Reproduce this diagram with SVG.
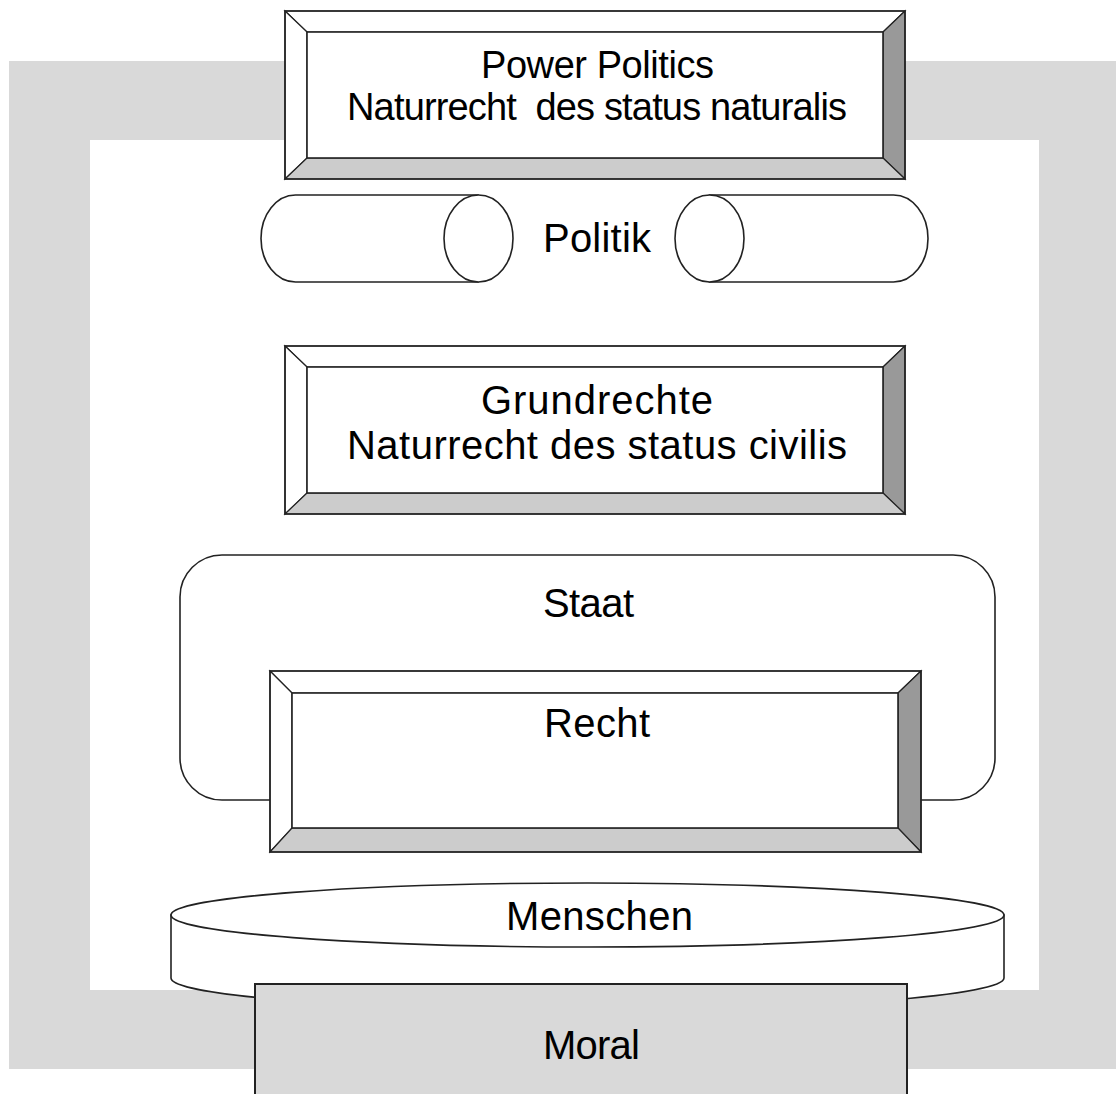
<svg xmlns="http://www.w3.org/2000/svg" width="1116" height="1094" viewBox="0 0 1116 1094">
<style>
text{font-family:"Liberation Sans",Arial,sans-serif;font-size:40px;fill:#000;text-anchor:middle}
.sm{font-size:38px}
.ln{stroke:#222;stroke-width:1.6;fill:none}
.w{fill:#fff;stroke:#222;stroke-width:1.6}
.lt{fill:#fff;stroke:#222;stroke-width:1.2}
.dk{fill:#999;stroke:#222;stroke-width:1.2}
.md{fill:#ccc;stroke:#222;stroke-width:1.2}
</style>
<rect width="1116" height="1094" fill="#fff"/>
<g id="frame">
<path d="M9,61H1120V1069H9Z M90,140V990H1039V140Z" fill="#d9d9d9" fill-rule="evenodd"/>
</g>
<g id="power-politics">
<polygon class="lt" points="285,11 905,11 883,32 307,32"/>
<polygon class="lt" points="285,11 307,32 307,158 285,179"/>
<polygon class="dk" points="905,11 905,179 883,158 883,32"/>
<polygon class="md" points="285,179 307,158 883,158 905,179"/>
<rect class="w" x="307" y="32" width="576" height="126"/>
<rect class="ln" x="285" y="11" width="620" height="168" stroke-width="2"/>
<text class="sm" x="597.5" y="78" textLength="233" lengthAdjust="spacing">Power Politics</text>
<text class="sm" x="597" y="120" xml:space="preserve" textLength="500" lengthAdjust="spacing">Naturrecht  des status naturalis</text>
</g>
<g id="politik">
<path class="w" d="M295.5,195H478V282H295.5A34.5,43.5 0 0 1 295.5,195Z"/>
<ellipse class="w" cx="478.5" cy="238.5" rx="34.5" ry="43.5"/>
<path class="w" d="M709.5,195H893.5A34.5,43.5 0 0 1 893.5,282H709.5Z"/>
<ellipse class="w" cx="709.5" cy="238.5" rx="34.5" ry="43.5"/>
<text x="597" y="252" textLength="108" lengthAdjust="spacing">Politik</text>
</g>
<g id="grundrechte">
<polygon class="lt" points="285,346 905,346 883,367 307,367"/>
<polygon class="lt" points="285,346 307,367 307,493 285,514"/>
<polygon class="dk" points="905,346 905,514 883,493 883,367"/>
<polygon class="md" points="285,514 307,493 883,493 905,514"/>
<rect class="w" x="307" y="367" width="576" height="126"/>
<rect class="ln" x="285" y="346" width="620" height="168" stroke-width="2"/>
<text x="597" y="414" textLength="232" lengthAdjust="spacing">Grundrechte</text>
<text x="597" y="459" textLength="500" lengthAdjust="spacing">Naturrecht des status civilis</text>
</g>
<g id="staat">
<rect class="w" x="180" y="555" width="815" height="245" rx="42" ry="42"/>
<text x="588.5" y="617" textLength="91" lengthAdjust="spacing">Staat</text>
</g>
<g id="recht">
<polygon class="lt" points="270,671 921,671 898,693 292,693"/>
<polygon class="lt" points="270,671 292,693 292,828 270,852"/>
<polygon class="dk" points="921,671 921,852 898,828 898,693"/>
<polygon class="md" points="270,852 292,828 898,828 921,852"/>
<rect class="w" x="292" y="693" width="606" height="135"/>
<rect class="ln" x="270" y="671" width="651" height="181" stroke-width="2"/>
<text x="597" y="737" textLength="106" lengthAdjust="spacing">Recht</text>
</g>
<g id="menschen">
<path class="w" d="M171,915V978A416.5,32 0 0 0 1004,978V915Z"/>
<ellipse class="w" cx="587.5" cy="915" rx="416.5" ry="32"/>
<text x="599.5" y="930" textLength="187" lengthAdjust="spacing">Menschen</text>
</g>
<g id="moral">
<rect x="255" y="984" width="652" height="120" fill="#d9d9d9" stroke="#222" stroke-width="2"/>
<text x="591.5" y="1059" textLength="97" lengthAdjust="spacing">Moral</text>
</g>
<g id="connectors"/>
</svg>
